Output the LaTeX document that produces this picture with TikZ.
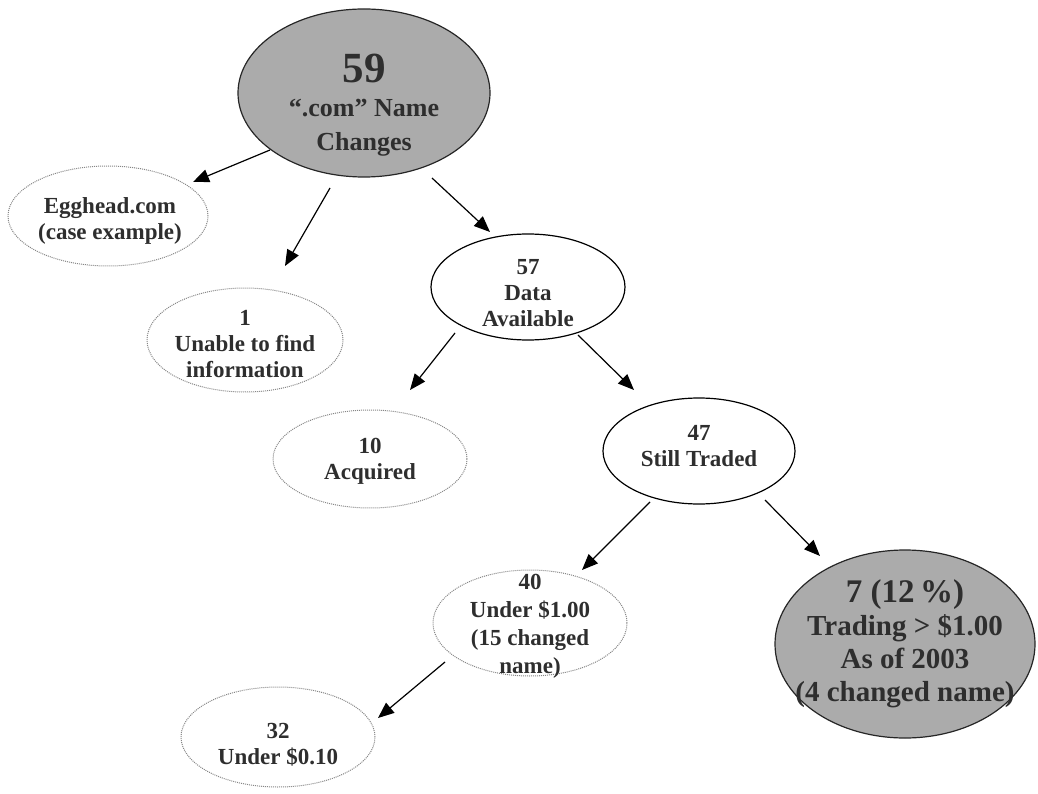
\documentclass[tikz,border=0pt]{standalone}
\usepackage{fontspec}
\setmainfont{Liberation Serif}
\usetikzlibrary{shapes.geometric,arrows.meta}
\definecolor{txtc}{HTML}{2E2E2E}
\definecolor{shade}{HTML}{ABABAB}
\begin{document}
\begin{tikzpicture}[x=1pt,y=-1pt,
  solidE/.style={ellipse, draw=black, line width=1.2pt, inner sep=0pt},
  dotE/.style={ellipse, draw=gray!95, line width=1pt, densely dotted, inner sep=0pt},
  grayE/.style={ellipse, draw=black!85, fill=shade, line width=1.2pt, inner sep=0pt},
  lbl/.style={font=\bfseries\fontsize{23}{26}\selectfont, text=txtc, align=center, inner sep=0pt},
  big/.style={font=\bfseries\fontsize{29}{33}\selectfont, text=txtc, align=center, inner sep=0pt},
  arr/.style={-{Triangle[length=16pt,width=13pt]}, line width=1.2pt}]
\useasboundingbox (0,0) rectangle (1038,794);

% ellipses
\node[grayE, minimum width=252pt, minimum height=168pt] (n59) at (364,93) {};
\node[dotE, minimum width=200pt, minimum height=100pt] (egg) at (108,216) {};
\node[dotE, minimum width=196pt, minimum height=104pt] (unable) at (245,340) {};
\node[solidE, minimum width=194pt, minimum height=106pt] (n57) at (528,287) {};
\node[dotE, minimum width=194pt, minimum height=98pt] (acq) at (370,459) {};
\node[solidE, minimum width=192pt, minimum height=106pt] (n47) at (699,451) {};
\node[dotE, minimum width=194pt, minimum height=106pt] (n40) at (530,623) {};
\node[grayE, minimum width=260pt, minimum height=188pt] (n7) at (905,644) {};
\node[dotE, minimum width=194pt, minimum height=100pt] (n32) at (278,737) {};

% texts
\node[big, font=\bfseries\fontsize{26}{34}\selectfont] (t59) at (364,105.5)
  {{\fontsize{43}{43}\selectfont 59}\\“.com” Name\\Changes};
\node[lbl] (tegg) at (110,221) {Egghead.com\\(case example)};
\node[lbl] (tunable) at (245,344) {1\\Unable to find\\information};
\node[lbl] (t57) at (528,293) {57\\Data\\Available};
\node[lbl] (tacq) at (370,461) {10\\Acquired};
\node[lbl] (t47) at (699,446) {47\\Still Traded};
\node[lbl, font=\bfseries\fontsize{23}{28}\selectfont] (t40) at (530,626) {40\\Under \$1.00\\(15 changed\\name)};
\node[big] (t7) at (905,644) {{\fontsize{33}{33}\selectfont 7 (12\,\%)}\\Trading > \$1.00\\As of 2003\\(4 changed name)};
\node[lbl] (t32) at (278,745) {32\\Under \$0.10};

% arrow end points
\coordinate (a1s) at (270,150); \coordinate (a1e) at (193,182);
\coordinate (a2s) at (330,188); \coordinate (a2e) at (285,266);
\coordinate (a3s) at (432,178); \coordinate (a3e) at (490,232);
\coordinate (a4s) at (455,333); \coordinate (a4e) at (410,390);
\coordinate (a5s) at (578,335); \coordinate (a5e) at (634,390);
\coordinate (a6s) at (650,502); \coordinate (a6e) at (582,570);
\coordinate (a7s) at (765,500); \coordinate (a7e) at (820,556);
\coordinate (a8s) at (445,662); \coordinate (a8e) at (378,718);

\draw[arr] (a1s) -- (a1e);
\draw[arr] (a2s) -- (a2e);
\draw[arr] (a3s) -- (a3e);
\draw[arr] (a4s) -- (a4e);
\draw[arr] (a5s) -- (a5e);
\draw[arr] (a6s) -- (a6e);
\draw[arr] (a7s) -- (a7e);
\draw[arr] (a8s) -- (a8e);
\end{tikzpicture}
\end{document}
